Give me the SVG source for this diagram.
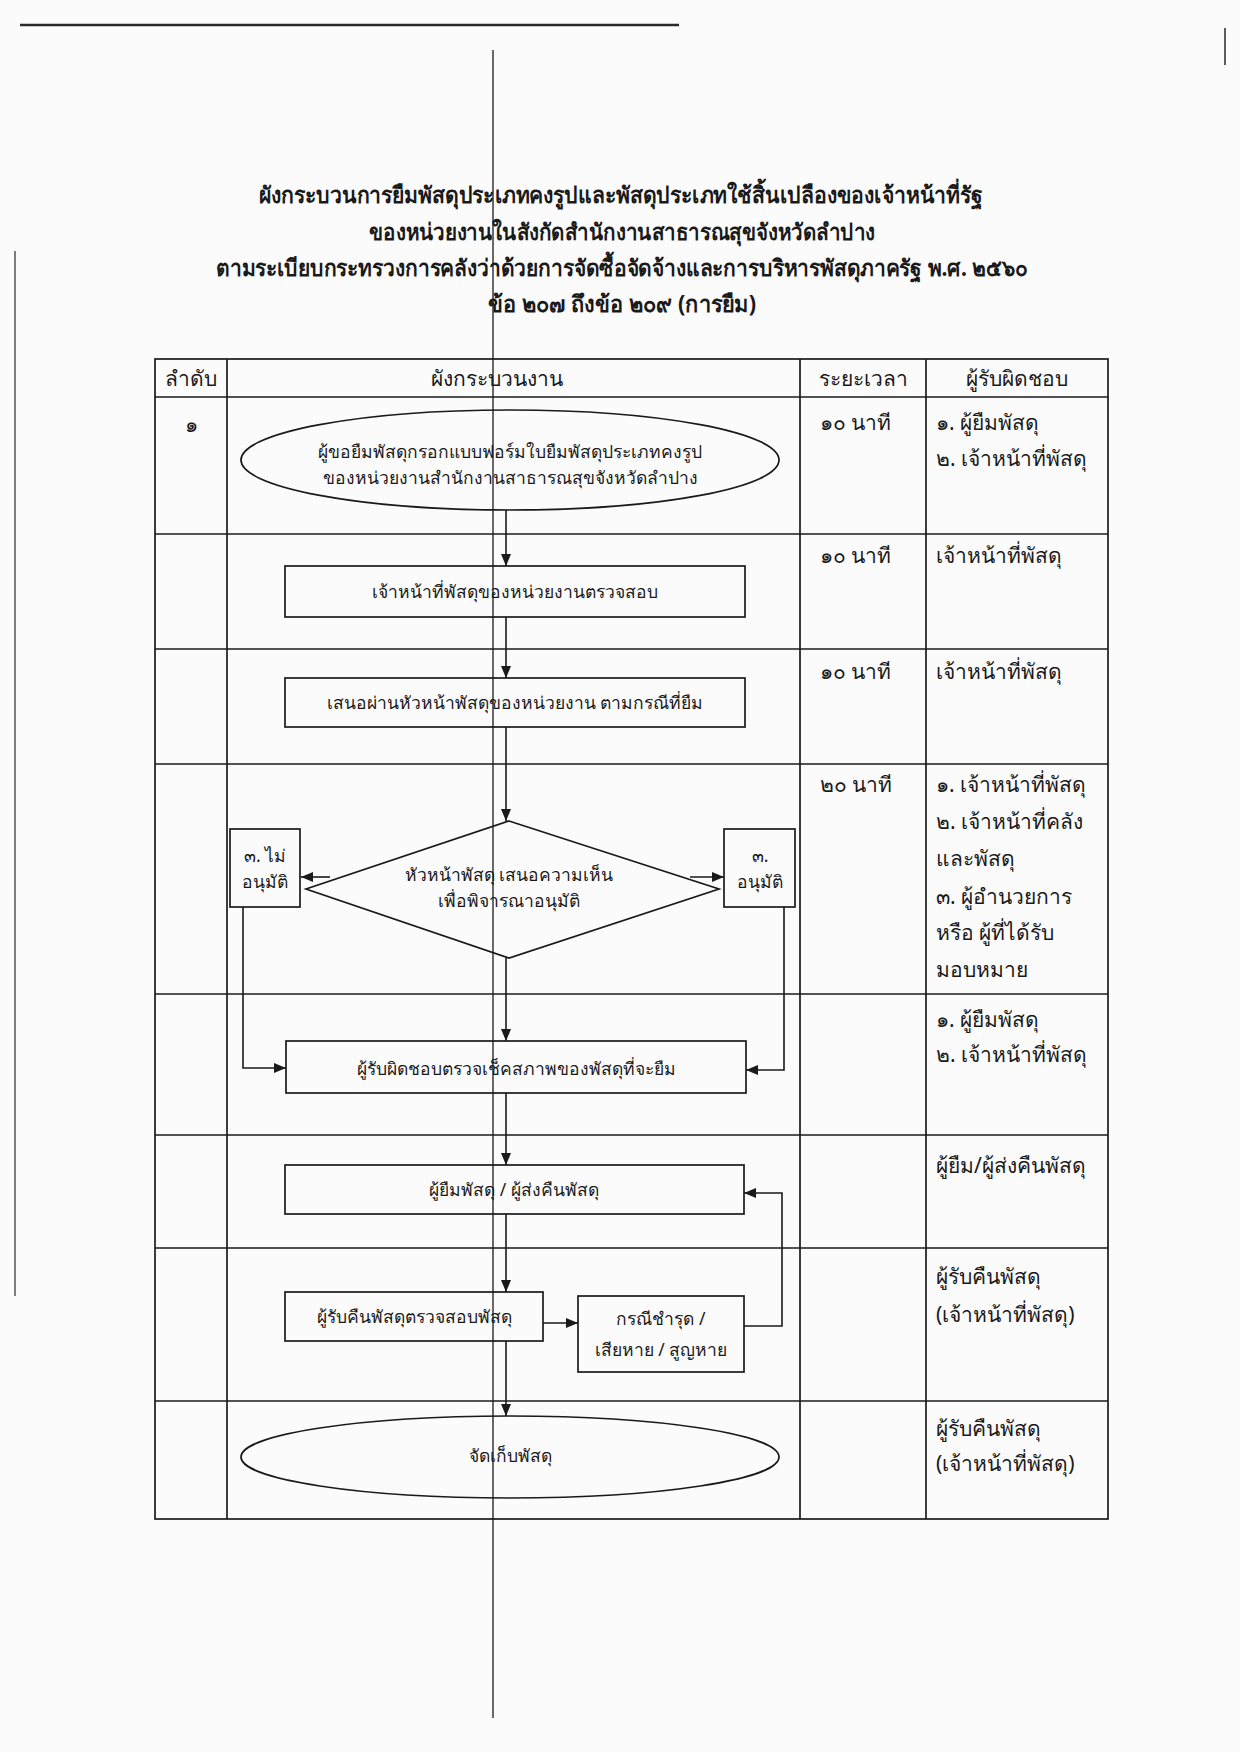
<svg xmlns="http://www.w3.org/2000/svg" width="1240" height="1752" viewBox="0 0 1240 1752">
<defs>
<marker id="arr" viewBox="0 0 12 10" refX="12" refY="5" markerWidth="13" markerHeight="10" markerUnits="userSpaceOnUse" orient="auto">
<path d="M0,0 L12,5 L0,10 Z" fill="#1a1a1a"/>
</marker>
<style>
text{font-family:"Noto Sans","DejaVu Sans",sans-serif;fill:#1a1a1a}
.title{font-size:23px;font-weight:bold;text-anchor:middle}
.hd{font-size:21px;text-anchor:middle}
.cell{font-size:21px}
.node{font-size:17.5px;text-anchor:middle}
.shape{fill:none;stroke:#1a1a1a;stroke-width:1.7}
.grid{stroke:#1a1a1a;stroke-width:1.7;fill:none}
.conn{stroke:#1a1a1a;stroke-width:1.6;fill:none}
.scan{stroke:#2a2a2a;fill:none}
</style>
</defs>
<rect width="1240" height="1752" fill="#fbfbfb"/>
<g id="scan-marks">
<line class="scan" x1="20" y1="25" x2="679" y2="25" stroke-width="2.5"/>
<line class="scan" x1="493" y1="50" x2="493" y2="1718" stroke-width="1.4"/>
<line class="scan" x1="15" y1="251" x2="15" y2="1296" stroke-width="1.2"/>
<line class="scan" x1="1225" y1="28" x2="1225" y2="65" stroke-width="1.5"/>
</g>
<g id="title">
<text class="title" x="621" y="203" textLength="724" lengthAdjust="spacingAndGlyphs">ผังกระบวนการยืมพัสดุประเภทคงรูปและพัสดุประเภทใช้สิ้นเปลืองของเจ้าหน้าที่รัฐ</text>
<text class="title" x="622" y="240" textLength="506" lengthAdjust="spacingAndGlyphs">ของหน่วยงานในสังกัดสำนักงานสาธารณสุขจังหวัดลำปาง</text>
<text class="title" x="622" y="276" textLength="812" lengthAdjust="spacingAndGlyphs">ตามระเบียบกระทรวงการคลังว่าด้วยการจัดซื้อจัดจ้างและการบริหารพัสดุภาครัฐ พ.ศ. ๒๕๖๐</text>
<text class="title" x="622" y="312" textLength="268" lengthAdjust="spacingAndGlyphs">ข้อ ๒๐๗ ถึงข้อ ๒๐๙ (การยืม)</text>
</g>
<g id="table">
<rect class="grid" x="155" y="359" width="953" height="1160"/>
<line class="grid" x1="227" y1="359" x2="227" y2="1519"/>
<line class="grid" x1="800" y1="359" x2="800" y2="1519"/>
<line class="grid" x1="926" y1="359" x2="926" y2="1519"/>
<line class="grid" x1="155" y1="397" x2="1108" y2="397"/>
<line class="grid" x1="155" y1="534" x2="1108" y2="534"/>
<line class="grid" x1="155" y1="649" x2="1108" y2="649"/>
<line class="grid" x1="155" y1="764" x2="1108" y2="764"/>
<line class="grid" x1="155" y1="994" x2="1108" y2="994"/>
<line class="grid" x1="155" y1="1135" x2="1108" y2="1135"/>
<line class="grid" x1="155" y1="1248" x2="1108" y2="1248"/>
<line class="grid" x1="155" y1="1401" x2="1108" y2="1401"/>
<text class="hd" x="191" y="386">ลำดับ</text>
<text class="hd" x="497" y="386">ผังกระบวนงาน</text>
<text class="hd" x="863" y="386">ระยะเวลา</text>
<text class="hd" x="1017" y="386">ผู้รับผิดชอบ</text>
<text class="hd" x="191" y="432">๑</text>
<text class="cell" x="820" y="430">๑๐ นาที</text>
<text class="cell" x="936" y="430">๑. ผู้ยืมพัสดุ</text>
<text class="cell" x="936" y="466">๒. เจ้าหน้าที่พัสดุ</text>
<text class="cell" x="820" y="563">๑๐ นาที</text>
<text class="cell" x="936" y="563">เจ้าหน้าที่พัสดุ</text>
<text class="cell" x="820" y="679">๑๐ นาที</text>
<text class="cell" x="936" y="679">เจ้าหน้าที่พัสดุ</text>
<text class="cell" x="820" y="792">๒๐ นาที</text>
<text class="cell" x="936" y="792">๑. เจ้าหน้าที่พัสดุ</text>
<text class="cell" x="936" y="829">๒. เจ้าหน้าที่คลัง</text>
<text class="cell" x="936" y="866">และพัสดุ</text>
<text class="cell" x="936" y="904">๓. ผู้อำนวยการ</text>
<text class="cell" x="936" y="940">หรือ ผู้ที่ได้รับ</text>
<text class="cell" x="936" y="977">มอบหมาย</text>
<text class="cell" x="936" y="1027">๑. ผู้ยืมพัสดุ</text>
<text class="cell" x="936" y="1062">๒. เจ้าหน้าที่พัสดุ</text>
<text class="cell" x="936" y="1173">ผู้ยืม/ผู้ส่งคืนพัสดุ</text>
<text class="cell" x="936" y="1284">ผู้รับคืนพัสดุ</text>
<text class="cell" x="936" y="1322">(เจ้าหน้าที่พัสดุ)</text>
<text class="cell" x="936" y="1436">ผู้รับคืนพัสดุ</text>
<text class="cell" x="936" y="1471">(เจ้าหน้าที่พัสดุ)</text>
</g>
<g id="connectors">
<line class="conn" x1="506" y1="510" x2="506" y2="566" marker-end="url(#arr)"/>
<line class="conn" x1="506" y1="617" x2="506" y2="678" marker-end="url(#arr)"/>
<line class="conn" x1="506" y1="727" x2="506" y2="821" marker-end="url(#arr)"/>
<line class="conn" x1="330" y1="877" x2="301" y2="877" marker-end="url(#arr)"/>
<line class="conn" x1="690" y1="877" x2="724" y2="877" marker-end="url(#arr)"/>
<line class="conn" x1="506" y1="958" x2="506" y2="1041" marker-end="url(#arr)"/>
<polyline class="conn" points="243,907 243,1068 286,1068" marker-end="url(#arr)"/>
<polyline class="conn" points="784,907 784,1070 746,1070" marker-end="url(#arr)"/>
<line class="conn" x1="506" y1="1093" x2="506" y2="1165" marker-end="url(#arr)"/>
<line class="conn" x1="506" y1="1214" x2="506" y2="1292" marker-end="url(#arr)"/>
<line class="conn" x1="543" y1="1323" x2="578" y2="1323" marker-end="url(#arr)"/>
<polyline class="conn" points="744,1326 782,1326 782,1193 744,1193" marker-end="url(#arr)"/>
<line class="conn" x1="506" y1="1341" x2="506" y2="1416" marker-end="url(#arr)"/>
</g>
<g id="n1-start">
<ellipse class="shape" cx="510" cy="460" rx="269" ry="50"/>
<text class="node" x="510" y="458">ผู้ขอยืมพัสดุกรอกแบบฟอร์มใบยืมพัสดุประเภทคงรูป</text>
<text class="node" x="510" y="484">ของหน่วยงานสำนักงานสาธารณสุขจังหวัดลำปาง</text>
</g>
<g id="n2-check">
<rect class="shape" x="285" y="566" width="460" height="51"/>
<text class="node" x="515" y="598">เจ้าหน้าที่พัสดุของหน่วยงานตรวจสอบ</text>
</g>
<g id="n3-propose">
<rect class="shape" x="285" y="678" width="460" height="49"/>
<text class="node" x="515" y="709">เสนอผ่านหัวหน้าพัสดุของหน่วยงาน ตามกรณีที่ยืม</text>
</g>
<g id="n4-decision">
<polygon class="shape" points="509,821 719,889 509,958 306,889"/>
<text class="node" x="509" y="881">หัวหน้าพัสดุ เสนอความเห็น</text>
<text class="node" x="509" y="907">เพื่อพิจารณาอนุมัติ</text>
</g>
<g id="n4a-reject">
<rect class="shape" x="230" y="829" width="70" height="78"/>
<text class="node" x="265" y="862">๓. ไม่</text>
<text class="node" x="265" y="888">อนุมัติ</text>
</g>
<g id="n4b-approve">
<rect class="shape" x="724" y="829" width="71" height="78"/>
<text class="node" x="760" y="862">๓.</text>
<text class="node" x="760" y="888">อนุมัติ</text>
</g>
<g id="n5-inspect">
<rect class="shape" x="286" y="1041" width="460" height="52"/>
<text class="node" x="516" y="1075">ผู้รับผิดชอบตรวจเช็คสภาพของพัสดุที่จะยืม</text>
</g>
<g id="n6-borrower">
<rect class="shape" x="285" y="1165" width="459" height="49"/>
<text class="node" x="514" y="1196">ผู้ยืมพัสดุ / ผู้ส่งคืนพัสดุ</text>
</g>
<g id="n7-receive">
<rect class="shape" x="285" y="1292" width="258" height="49"/>
<text class="node" x="414" y="1323">ผู้รับคืนพัสดุตรวจสอบพัสดุ</text>
</g>
<g id="n7a-damage">
<rect class="shape" x="578" y="1296" width="166" height="76"/>
<text class="node" x="661" y="1325">กรณีชำรุด /</text>
<text class="node" x="661" y="1356">เสียหาย / สูญหาย</text>
</g>
<g id="n8-store">
<ellipse class="shape" cx="510" cy="1457" rx="269" ry="41"/>
<text class="node" x="510" y="1462">จัดเก็บพัสดุ</text>
</g>
</svg>
